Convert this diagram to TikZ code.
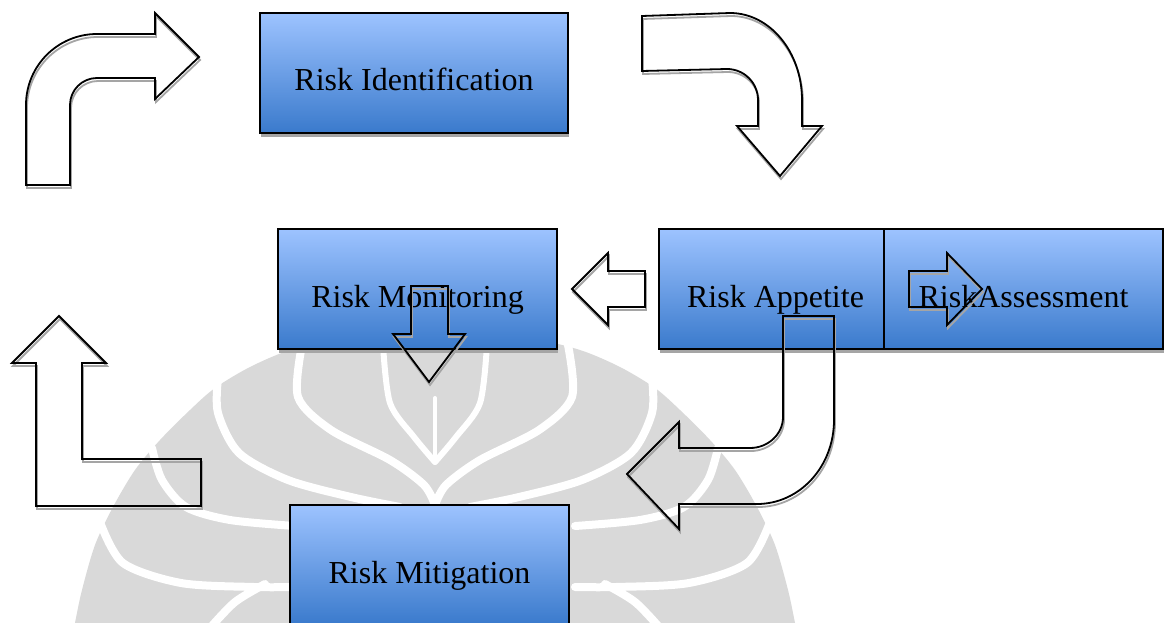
\documentclass[tikz,border=0pt]{standalone}
\usepackage{fontspec}
\setmainfont{Liberation Serif}
\usetikzlibrary{shadows}

\definecolor{boxtop}{RGB}{157,195,255}
\definecolor{boxbot}{RGB}{58,122,204}
\definecolor{wmgray}{RGB}{217,217,217}
\definecolor{shadowgray}{RGB}{165,165,165}

% block arrow outlines (pixel grid, y downwards)
\newcommand\arrUpRight{(26,185) -- (26,105) .. controls (26,65.8) and (57.8,34) .. (97,34)
  -- (155,34) -- (155,13) -- (199,57) -- (155,99) -- (155,78) -- (97,78)
  .. controls (82.1,78) and (70,90.1) .. (70,105) -- (70,185) -- cycle}
\newcommand\arrRightDown{(642,16) -- (730,13) .. controls (769.8,13) and (802,52) .. (802,100)
  -- (802,126) -- (822,126) -- (780,176) -- (737,126) -- (758,126) -- (758,100)
  .. controls (758,82.9) and (744.1,69) .. (727,69) -- (642,71) -- cycle}
\newcommand\arrSmallLeft{(645,271) -- (608,271) -- (608,253) -- (572,289) -- (608,325) -- (608,307) -- (645,307) -- cycle}
\newcommand\arrSmallRight{(909,271) -- (947,271) -- (947,253) -- (982,289) -- (947,325) -- (947,307) -- (909,307) -- cycle}
\newcommand\arrSmallDown{(411,286) -- (448,286) -- (448,334) -- (465,334) -- (429,382) -- (393,334) -- (411,334) -- cycle}
\newcommand\arrUTurn{(783,316) -- (834,316) -- (834,420) .. controls (834,466.9) and (799.5,504) .. (757,504)
  -- (679,504) -- (679,529) -- (627,474) -- (679,422) -- (679,448) -- (750,448)
  .. controls (768.2,448) and (783,434.1) .. (783,417) -- cycle}
\newcommand\arrLUp{(59,316) -- (106,363) -- (82,363) -- (82,459) -- (201,459) -- (201,506) -- (36,506) -- (36,363) -- (12,363) -- cycle}

% white cuts of the background emblem, left half
\newcommand\wmbands{%
  \draw[wmband] plot[smooth] coordinates {(218,378) (218,413) (239,453) (288,480) (351,497) (400,507)};
  \draw[wmband] plot[smooth] coordinates {(302,345) (298,397) (331,430) (390,460) (424,485) (435,505)};
  \draw[wmband, line width=6pt] plot[smooth] coordinates {(383,345) (390,403) (414,437) (435,462)};
  \draw[wmband] plot[smooth] coordinates {(152,448) (162,480) (186,507) (230,520) (295,526)};
  \draw[wmband] plot[smooth] coordinates {(100,522) (123,563) (181,583) (254,587) (295,587)};
  \draw[wmband] plot[smooth] coordinates {(265,584) (235,602) (210,628)};
}

\begin{document}
\begin{tikzpicture}[x=1pt,y=-1pt,
  riskbox/.style={draw=black, line width=1.8pt, top color=boxtop, bottom color=boxbot,
    minimum width=#1, minimum height=120pt, inner sep=0pt,
    text height=78pt, text depth=42pt, font=\fontsize{32}{38}\selectfont,
    drop shadow={shadow xshift=1pt, shadow yshift=-4pt, fill=shadowgray, opacity=1}},
  blockarrow/.style={draw=black, line width=1.8pt, line join=miter},
  arrowshadow/.style={draw=shadowgray, line width=1.8pt},
  wmband/.style={white, line width=8pt, line cap=round}]

\clip (0,0) rectangle (1164,623);
\fill[white] (0,0) rectangle (1164,623);

% background emblem
\fill[wmgray] plot[smooth] coordinates {(70,650) (75,623) (82,590) (95,545) (113,507) (135,470)
  (160,440) (190,410) (215,388) (250,367) (290,350) (340,338) (390,333) (435,332) (480,333)
  (530,338) (580,350) (620,367) (655,388) (680,410) (710,440) (735,470) (757,507) (775,545)
  (788,590) (795,623) (800,650)} -- cycle;
\wmbands
\begin{scope}[shift={(870,0)}, xscale=-1]
  \wmbands
\end{scope}
\draw[white, line width=4pt, line cap=round] (435,398) -- (435,462);

% process boxes
\node[riskbox=308] (ident)  at (414,73)    {Risk Identification};
\node[riskbox=279] (monit)  at (417.5,289) {Risk Monitoring};
\node[riskbox=225] (appet)  at (771.5,289) {\hspace*{8pt}Risk Appetite};
\node[riskbox=279] (assess) at (1023.5,289) {RiskAssessment};
\node[riskbox=279] (mitig)  at (429.5,565) {Risk Mitigation};

% block arrows: offset shadow, then outline
\foreach \shape in {\arrUpRight,\arrRightDown,\arrSmallLeft,\arrSmallRight,\arrSmallDown,\arrUTurn,\arrLUp}{
  \draw[arrowshadow, shift={(1,3)}] \shape;
  \draw[blockarrow] \shape;
}
\end{tikzpicture}
\end{document}
